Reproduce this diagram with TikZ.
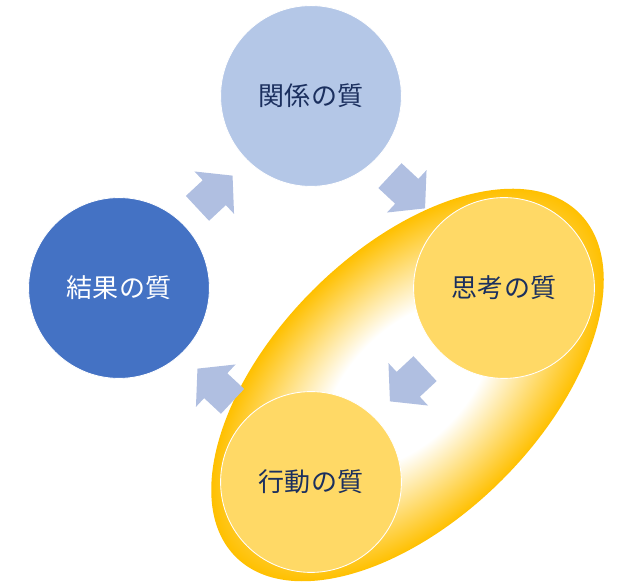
\documentclass[tikz,border=0pt]{standalone}
\usepackage{fontspec}
\newfontfamily\jpfont{Noto Sans CJK JP}
\usepackage{tikz}
\usetikzlibrary{calc}
\usepackage{xcolor}
\definecolor{paleblue}{HTML}{B4C7E7}
\definecolor{arrowblue}{HTML}{B0BFE1}
\definecolor{deepblue}{HTML}{4472C4}
\definecolor{softgold}{HTML}{FFD966}
\definecolor{gold}{HTML}{FFC000}
\definecolor{navy}{HTML}{1B2F5E}
\pgfdeclareradialshading{goldglow}{\pgfpoint{0bp}{0bp}}{color(0bp)=(white); color(10.5bp)=(white); color(25bp)=(gold); color(50bp)=(gold)}

\begin{document}
\begin{tikzpicture}[x=0.025cm, y=0.025cm,
  quality/.style={circle, draw=white, line width=0.6pt, minimum size=4.52cm,
    inner sep=0pt, font=\jpfont\fontsize{18.5}{22}\selectfont},
  pics/turnarrow/.style={code={
    \fill[arrowblue] (-24,-17) -- (-1,-17) -- (-1,-29) -- (24,0)
      -- (-1,29) -- (-1,17) -- (-24,17) -- cycle;}},
]
  \useasboundingbox (0,0) rectangle (638,585);
  % glow round thinking and acting
  \begin{scope}[transform canvas={shift={(407.5,200)}, rotate=45}]
    \shade[shading=goldglow] (0,0) ellipse [x radius=243, y radius=134];
  \end{scope}
  \node[quality, fill=paleblue, text=navy] (rel) at (311,489) {関係の質};
  \node[quality, fill=softgold, text=navy] (think) at (504,297) {思考の質};
  \node[quality, fill=softgold, text=navy] (act) at (311,103) {行動の質};
  \node[quality, fill=deepblue, text=white] (res) at (119,297) {結果の質};
  % cycle arrows
  \pic[rotate=43] at ($(res)!0.5!(rel)$) {turnarrow};
  \pic[rotate=-43] at ($(rel)!0.5!(think)$) {turnarrow};
  \pic[rotate=223] at ($(think)!0.5!(act)$) {turnarrow};
  \pic[rotate=137] at ($(act)!0.5!(res)$) {turnarrow};
\end{tikzpicture}
\end{document}
